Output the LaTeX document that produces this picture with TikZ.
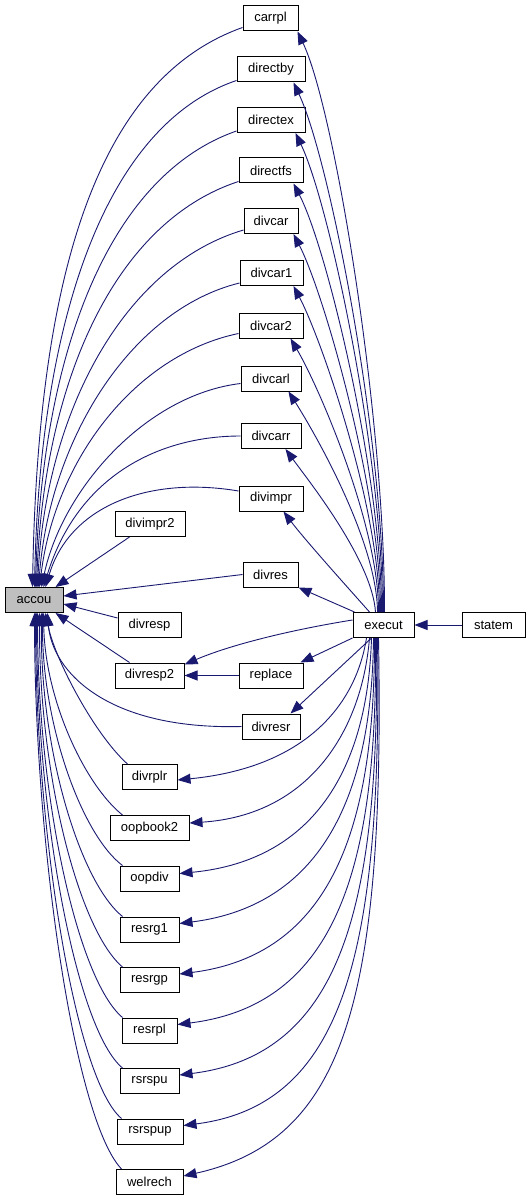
\documentclass[tikz,border=0pt]{standalone}
\usepackage{fontspec}
\setmainfont{Liberation Sans}
\usetikzlibrary{arrows.meta}
\definecolor{edgeblue}{RGB}{25,25,112}
\definecolor{hilite}{RGB}{191,191,191}
\begin{document}
\begin{tikzpicture}[x=1pt,y=-1pt,
  box/.style={draw=black,line width=1pt,fill=white,rectangle,minimum height=25pt,inner sep=0pt,
    font=\fontsize{13pt}{15pt}\selectfont},
  cur/.style={box,fill=hilite},
  edge/.style={draw=edgeblue,line width=0.9pt,-{Triangle[length=13pt,width=10pt]}}]
\useasboundingbox (0,0) rectangle (531,1201);
% nodes
\node[box,minimum width=55pt] (carrpl) at (270.5,18.5) {carrpl};
\node[box,minimum width=68pt] (directby) at (271,69.5) {directby};
\node[box,minimum width=68pt] (directex) at (271,120) {directex};
\node[box,minimum width=64pt] (directfs) at (271,170.5) {directfs};
\node[box,minimum width=54pt] (divcar) at (271,221) {divcar};
\node[box,minimum width=63pt] (divcar1) at (271.5,273) {divcar1};
\node[box,minimum width=64pt] (divcar2) at (271,325.5) {divcar2};
\node[box,minimum width=60pt] (divcarl) at (271,378.5) {divcarl};
\node[box,minimum width=60pt] (divcarr) at (271,436) {divcarr};
\node[box,minimum width=64pt] (divimpr) at (271,498.5) {divimpr};
\node[box,minimum width=70pt] (divimpr2) at (150,524) {divimpr2};
\node[box,minimum width=55pt] (divres) at (270.5,574.5) {divres};
\node[cur,minimum width=58pt] (accou) at (34,600) {accou};
\node[box,minimum width=63pt] (divresp) at (149.5,625) {divresp};
\node[box,minimum width=61pt] (execut) at (383.5,625) {execut};
\node[box,minimum width=63pt] (statem) at (493.5,625) {statem};
\node[box,minimum width=69pt] (divresp2) at (149.5,675.5) {divresp2};
\node[box,minimum width=64pt] (replace) at (271,675.5) {replace};
\node[box,minimum width=58pt] (divresr) at (271,726.5) {divresr};
\node[box,minimum width=55pt] (divrplr) at (149.5,777) {divrplr};
\node[box,minimum width=79pt] (oopbook2) at (149.5,828) {oopbook2};
\node[box,minimum width=59pt] (oopdiv) at (149.5,878.5) {oopdiv};
\node[box,minimum width=59pt] (resrg1) at (149.5,929.5) {resrg1};
\node[box,minimum width=59pt] (resrgp) at (149.5,980) {resrgp};
\node[box,minimum width=55pt] (resrpl) at (149.5,1030.5) {resrpl};
\node[box,minimum width=59pt] (rsrspu) at (149.5,1081) {rsrspu};
\node[box,minimum width=66pt] (rsrspup) at (150,1131.5) {rsrspup};
\node[box,minimum width=67pt] (welrech) at (149.5,1182) {welrech};
% upper callers -> accou
\draw[edge] ([yshift=4pt]carrpl.south west) .. controls (95,80) and (38,280) .. ([xshift=28pt]accou.north west);
\draw[edge] ([yshift=2pt]directby.south west) .. controls (105,125) and (40,320) .. ([xshift=30pt]accou.north west);
\draw[edge] ([yshift=2pt]directex.south west) .. controls (110,175) and (42,350) .. ([xshift=31pt]accou.north west);
\draw[edge] ([yshift=2pt]directfs.south west) .. controls (115,222) and (44,380) .. ([xshift=32pt]accou.north west);
\draw[edge] ([yshift=4pt]divcar.south west) .. controls (125,265) and (46,410) .. ([xshift=33pt]accou.north west);
\draw[edge] ([yshift=3pt]divcar1.south west) .. controls (130,310) and (50,440) .. ([xshift=34pt]accou.north west);
\draw[edge] ([yshift=5pt]divcar2.south west) .. controls (135,355) and (55,460) .. ([xshift=35pt]accou.north west);
\draw[edge] ([yshift=8pt]divcarl.south west) .. controls (145,395) and (62,490) .. ([xshift=37pt]accou.north west);
\draw[edge] (divcarr.west) .. controls (160,436) and (78,475) .. ([xshift=39pt]accou.north west);
\draw[edge] ([yshift=7.5pt]divimpr.west) .. controls (150,476) and (70,505) .. ([xshift=41pt]accou.north west);
\draw[edge] ([xshift=15pt]divimpr2.south west) -- ([xshift=-8pt]accou.north east);
\draw[edge] (divres.west) -- ([yshift=4pt]accou.east);
\draw[edge] ([yshift=7pt]divresp.west) -- ([yshift=-4pt]accou.east);
\draw[edge] ([xshift=15pt]divresp2.north west) -- ([xshift=-8pt]accou.south east);
% lower callers -> accou
\draw[edge] (divresr.west) .. controls (105,730) and (52,670) .. ([xshift=43pt]accou.south west);
\draw[edge] ([xshift=6pt]divrplr.north west) .. controls (95,735) and (55,660) .. ([xshift=41pt]accou.south west);
\draw[edge] ([xshift=13pt]oopbook2.north west) .. controls (85,785) and (45,700) .. ([xshift=39pt]accou.south west);
\draw[edge] ([xshift=3pt]oopdiv.north west) .. controls (82,835) and (42,725) .. ([xshift=38pt]accou.south west);
\draw[edge] ([xshift=3pt]resrg1.north west) .. controls (80,882) and (40,750) .. ([xshift=37pt]accou.south west);
\draw[edge] ([xshift=3pt]resrgp.north west) .. controls (79,930) and (39,775) .. ([xshift=35pt]accou.south west);
\draw[edge] ([xshift=1pt]resrpl.north west) .. controls (78,980) and (38,800) .. ([xshift=33pt]accou.south west);
\draw[edge] ([xshift=3pt]rsrspu.north west) .. controls (77,1030) and (37,820) .. ([xshift=32pt]accou.south west);
\draw[edge] ([xshift=5pt]rsrspup.north west) .. controls (76,1080) and (36,840) .. ([xshift=31pt]accou.south west);
\draw[edge] ([xshift=6pt]welrech.north west) .. controls (75,1120) and (35,850) .. ([xshift=30pt]accou.south west);
% execut -> upper
\draw[edge] ([xshift=32pt]execut.north west) .. controls (385,420) and (335,110) .. ([xshift=-1pt]carrpl.south east);
\draw[edge] ([xshift=31pt]execut.north west) .. controls (384,440) and (330,160) .. ([xshift=-12pt]directby.south east);
\draw[edge] ([xshift=30pt]execut.north west) .. controls (383,460) and (330,205) .. ([xshift=-10pt]directex.south east);
\draw[edge] ([xshift=29pt]execut.north west) .. controls (382,480) and (328,250) .. ([xshift=-10pt]directfs.south east);
\draw[edge] ([xshift=28pt]execut.north west) .. controls (381,495) and (325,295) .. ([xshift=-5pt]divcar.south east);
\draw[edge] ([xshift=27pt]execut.north west) .. controls (380,510) and (322,340) .. ([xshift=-10pt]divcar1.south east);
\draw[edge] ([xshift=26pt]execut.north west) .. controls (379,525) and (318,385) .. ([xshift=-13pt]divcar2.south east);
\draw[edge] ([xshift=25pt]execut.north west) .. controls (377,540) and (313,430) .. ([xshift=-13pt]divcarl.south east);
\draw[edge] ([xshift=23pt]execut.north west) .. controls (372,560) and (308,480) .. ([xshift=-16pt]divcarr.south east);
\draw[edge] ([xshift=17pt]execut.north west) .. controls (350,590) and (305,540) .. ([xshift=-20pt]divimpr.south east);
\draw[edge] ([xshift=2pt]execut.north west) -- (divres.south east);
\draw[edge] ([yshift=5pt]execut.west) .. controls (290,630) and (230,645) .. ([yshift=-2pt]divresp2.north east);
\draw[edge] (execut.south west) -- ([xshift=-3pt]replace.north east);
\draw[edge] ([xshift=19pt]execut.south west) -- ([xshift=-10pt]divresr.north east);
\draw[edge] (replace.west) -- (divresp2.east);
\draw[edge] (statem.west) -- (execut.east);
% execut -> lower
\draw[edge] ([xshift=14pt]execut.south west) .. controls (355,710) and (300,768) .. ([yshift=-3pt]divrplr.east);
\draw[edge] ([xshift=17pt]execut.south west) .. controls (362,730) and (310,815) .. ([yshift=5pt]oopbook2.east);
\draw[edge] ([xshift=19pt]execut.south west) .. controls (368,760) and (320,860) .. ([yshift=5pt]oopdiv.east);
\draw[edge] ([xshift=21pt]execut.south west) .. controls (372,790) and (325,905) .. ([yshift=6pt]resrg1.east);
\draw[edge] ([xshift=22pt]execut.south west) .. controls (375,830) and (330,955) .. ([yshift=6pt]resrgp.east);
\draw[edge] ([xshift=23pt]execut.south west) .. controls (378,870) and (335,1005) .. ([yshift=6pt]resrpl.east);
\draw[edge] ([xshift=24pt]execut.south west) .. controls (380,910) and (340,1055) .. ([yshift=6pt]rsrspu.east);
\draw[edge] ([xshift=25pt]execut.south west) .. controls (382,950) and (345,1105) .. ([yshift=6pt]rsrspup.east);
\draw[edge] ([xshift=26pt]execut.south west) .. controls (385,1000) and (345,1140) .. ([yshift=6pt]welrech.east);
\end{tikzpicture}
\end{document}
